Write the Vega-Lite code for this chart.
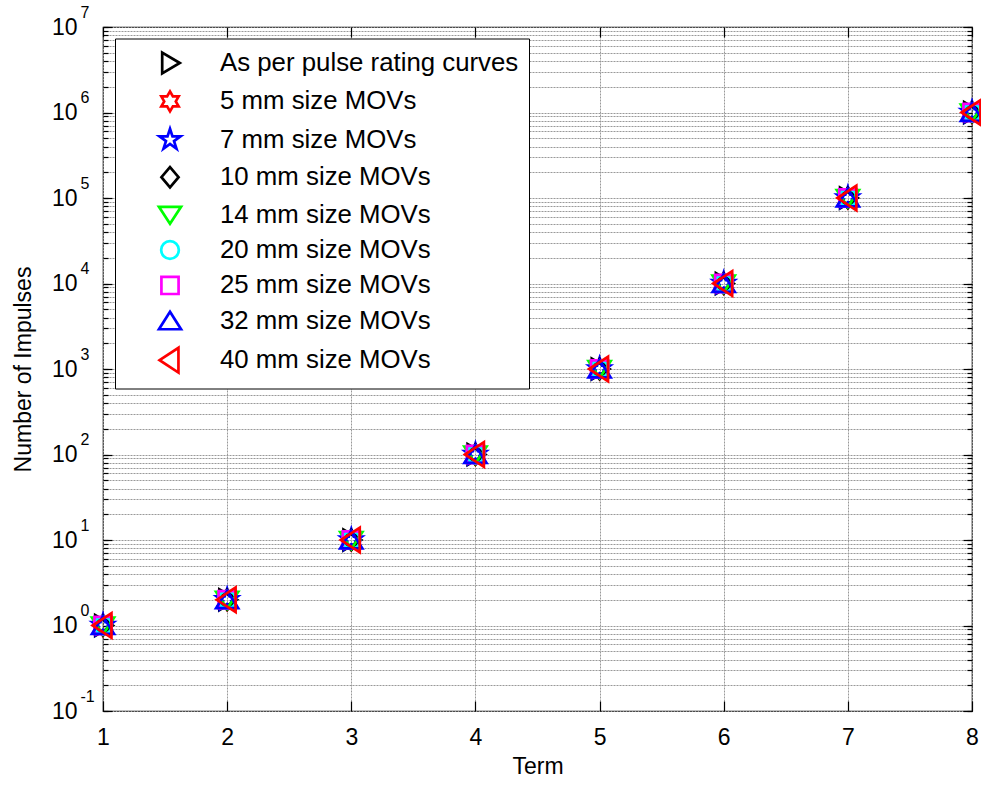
{
  "$schema": "https://vega.github.io/schema/vega-lite/v6.json",
  "width": 869,
  "height": 684,
  "autosize": {"type": "none"},
  "padding": {"left": 103, "top": 27, "right": 9, "bottom": 74},
  "background": "white",
  "data": {
    "values": [
      {"series": "As per pulse rating curves", "term": 1, "impulses": 1},
      {"series": "As per pulse rating curves", "term": 2, "impulses": 2},
      {"series": "As per pulse rating curves", "term": 3, "impulses": 10},
      {"series": "As per pulse rating curves", "term": 4, "impulses": 100},
      {"series": "As per pulse rating curves", "term": 5, "impulses": 1000},
      {"series": "As per pulse rating curves", "term": 6, "impulses": 10000},
      {"series": "As per pulse rating curves", "term": 7, "impulses": 100000},
      {"series": "As per pulse rating curves", "term": 8, "impulses": 1000000},
      {"series": "5 mm size MOVs", "term": 1, "impulses": 1},
      {"series": "5 mm size MOVs", "term": 2, "impulses": 2},
      {"series": "5 mm size MOVs", "term": 3, "impulses": 10},
      {"series": "5 mm size MOVs", "term": 4, "impulses": 100},
      {"series": "5 mm size MOVs", "term": 5, "impulses": 1000},
      {"series": "5 mm size MOVs", "term": 6, "impulses": 10000},
      {"series": "5 mm size MOVs", "term": 7, "impulses": 100000},
      {"series": "5 mm size MOVs", "term": 8, "impulses": 1000000},
      {"series": "7 mm size MOVs", "term": 1, "impulses": 1},
      {"series": "7 mm size MOVs", "term": 2, "impulses": 2},
      {"series": "7 mm size MOVs", "term": 3, "impulses": 10},
      {"series": "7 mm size MOVs", "term": 4, "impulses": 100},
      {"series": "7 mm size MOVs", "term": 5, "impulses": 1000},
      {"series": "7 mm size MOVs", "term": 6, "impulses": 10000},
      {"series": "7 mm size MOVs", "term": 7, "impulses": 100000},
      {"series": "7 mm size MOVs", "term": 8, "impulses": 1000000},
      {"series": "10 mm size MOVs", "term": 1, "impulses": 1},
      {"series": "10 mm size MOVs", "term": 2, "impulses": 2},
      {"series": "10 mm size MOVs", "term": 3, "impulses": 10},
      {"series": "10 mm size MOVs", "term": 4, "impulses": 100},
      {"series": "10 mm size MOVs", "term": 5, "impulses": 1000},
      {"series": "10 mm size MOVs", "term": 6, "impulses": 10000},
      {"series": "10 mm size MOVs", "term": 7, "impulses": 100000},
      {"series": "10 mm size MOVs", "term": 8, "impulses": 1000000},
      {"series": "14 mm size MOVs", "term": 1, "impulses": 1},
      {"series": "14 mm size MOVs", "term": 2, "impulses": 2},
      {"series": "14 mm size MOVs", "term": 3, "impulses": 10},
      {"series": "14 mm size MOVs", "term": 4, "impulses": 100},
      {"series": "14 mm size MOVs", "term": 5, "impulses": 1000},
      {"series": "14 mm size MOVs", "term": 6, "impulses": 10000},
      {"series": "14 mm size MOVs", "term": 7, "impulses": 100000},
      {"series": "14 mm size MOVs", "term": 8, "impulses": 1000000},
      {"series": "20 mm size MOVs", "term": 1, "impulses": 1},
      {"series": "20 mm size MOVs", "term": 2, "impulses": 2},
      {"series": "20 mm size MOVs", "term": 3, "impulses": 10},
      {"series": "20 mm size MOVs", "term": 4, "impulses": 100},
      {"series": "20 mm size MOVs", "term": 5, "impulses": 1000},
      {"series": "20 mm size MOVs", "term": 6, "impulses": 10000},
      {"series": "20 mm size MOVs", "term": 7, "impulses": 100000},
      {"series": "20 mm size MOVs", "term": 8, "impulses": 1000000},
      {"series": "25 mm size MOVs", "term": 1, "impulses": 1},
      {"series": "25 mm size MOVs", "term": 2, "impulses": 2},
      {"series": "25 mm size MOVs", "term": 3, "impulses": 10},
      {"series": "25 mm size MOVs", "term": 4, "impulses": 100},
      {"series": "25 mm size MOVs", "term": 5, "impulses": 1000},
      {"series": "25 mm size MOVs", "term": 6, "impulses": 10000},
      {"series": "25 mm size MOVs", "term": 7, "impulses": 100000},
      {"series": "25 mm size MOVs", "term": 8, "impulses": 1000000},
      {"series": "32 mm size MOVs", "term": 1, "impulses": 1},
      {"series": "32 mm size MOVs", "term": 2, "impulses": 2},
      {"series": "32 mm size MOVs", "term": 3, "impulses": 10},
      {"series": "32 mm size MOVs", "term": 4, "impulses": 100},
      {"series": "32 mm size MOVs", "term": 5, "impulses": 1000},
      {"series": "32 mm size MOVs", "term": 6, "impulses": 10000},
      {"series": "32 mm size MOVs", "term": 7, "impulses": 100000},
      {"series": "32 mm size MOVs", "term": 8, "impulses": 1000000},
      {"series": "40 mm size MOVs", "term": 1, "impulses": 1},
      {"series": "40 mm size MOVs", "term": 2, "impulses": 2},
      {"series": "40 mm size MOVs", "term": 3, "impulses": 10},
      {"series": "40 mm size MOVs", "term": 4, "impulses": 100},
      {"series": "40 mm size MOVs", "term": 5, "impulses": 1000},
      {"series": "40 mm size MOVs", "term": 6, "impulses": 10000},
      {"series": "40 mm size MOVs", "term": 7, "impulses": 100000},
      {"series": "40 mm size MOVs", "term": 8, "impulses": 1000000}
    ]
  },
  "layer": [
    {
      "mark": {"type": "point", "filled": false, "size": 676, "strokeWidth": 2.7, "opacity": 1},
      "encoding": {
        "x": {
          "field": "term", "type": "quantitative",
          "scale": {"domain": [1, 8], "nice": false, "zero": false},
          "axis": {"orient": "bottom", "values": [1, 2, 3, 4, 5, 6, 7, 8], "grid": true, "ticks": true, "tickSize": -10, "labels": false, "domain": false, "title": null}
        },
        "y": {
          "field": "impulses", "type": "quantitative",
          "scale": {"type": "log", "domain": [0.1, 10000000], "nice": false},
          "axis": {
            "orient": "left", "grid": true, "ticks": true, "tickSize": -5, "labels": false, "domain": false, "title": null,
            "values": [0.1, 0.2, 0.3, 0.4, 0.5, 0.6, 0.7, 0.8, 0.9, 1, 2, 3, 4, 5, 6, 7, 8, 9, 10, 20, 30, 40, 50, 60, 70, 80, 90, 100, 200, 300, 400, 500, 600, 700, 800, 900, 1000, 2000, 3000, 4000, 5000, 6000, 7000, 8000, 9000, 10000, 20000, 30000, 40000, 50000, 60000, 70000, 80000, 90000, 100000, 200000, 300000, 400000, 500000, 600000, 700000, 800000, 900000, 1000000, 2000000, 3000000, 4000000, 5000000, 6000000, 7000000, 8000000, 9000000, 10000000]
          }
        },
        "color": {
          "field": "series", "type": "nominal",
          "scale": {
            "domain": ["As per pulse rating curves", "5 mm size MOVs", "7 mm size MOVs", "10 mm size MOVs", "14 mm size MOVs", "20 mm size MOVs", "25 mm size MOVs", "32 mm size MOVs", "40 mm size MOVs"],
            "range": ["#000000", "#ff0000", "#0000ff", "#000000", "#00ff00", "#00ffff", "#ff00ff", "#0000ff", "#ff0000"]
          }
        },
        "shape": {
          "field": "series", "type": "nominal",
          "scale": {
            "domain": ["As per pulse rating curves", "5 mm size MOVs", "7 mm size MOVs", "10 mm size MOVs", "14 mm size MOVs", "20 mm size MOVs", "25 mm size MOVs", "32 mm size MOVs", "40 mm size MOVs"],
            "range": [
              "M0.75,0L-0.6,-0.8L-0.6,0.8Z",
              "M0,-0.77L0.222,-0.385L0.667,-0.385L0.445,0L0.667,0.385L0.222,0.385L0,0.77L-0.222,0.385L-0.667,0.385L-0.445,0L-0.667,-0.385L-0.222,-0.385Z",
              "M0,-0.85L0.191,-0.263L0.808,-0.263L0.309,0.1L0.5,0.688L0,0.325L-0.5,0.688L-0.309,0.1L-0.808,-0.263L-0.191,-0.263Z",
              "M0,-0.78L0.66,0L0,0.78L-0.66,0Z",
              "M0,0.7L0.85,-0.6L-0.85,-0.6Z",
              "M-0.68,0A0.68,0.68,0,1,0,0.68,0A0.68,0.68,0,1,0,-0.68,0Z",
              "M-0.66,-0.66L0.66,-0.66L0.66,0.66L-0.66,0.66Z",
              "M0,-0.7L0.85,0.65L-0.85,0.65Z",
              "M-0.8,0L0.65,-0.95L0.65,0.95Z"
            ]
          }
        }
      }
    },
    {
      "mark": {"type": "point", "opacity": 0},
      "encoding": {
        "x": {
          "field": "term", "type": "quantitative",
          "scale": {"domain": [1, 8], "nice": false, "zero": false},
          "axis": {"orient": "bottom", "values": [1, 2, 3, 4, 5, 6, 7, 8], "format": "d", "grid": false, "ticks": false, "domain": false, "labelPadding": 15, "labelBaseline": "top", "title": "Term", "titlePadding": 6}
        },
        "y": {
          "field": "impulses", "type": "quantitative",
          "scale": {"type": "log", "domain": [0.1, 10000000], "nice": false},
          "axis": {"orient": "left", "values": [0.1, 1, 10, 100, 1000, 10000, 100000, 1000000, 10000000], "grid": false, "ticks": true, "tickSize": -9, "labels": false, "domain": false, "title": null}
        }
      }
    },
    {
      "mark": {"type": "point", "opacity": 0},
      "encoding": {
        "x": {
          "field": "term", "type": "quantitative",
          "scale": {"domain": [1, 8], "nice": false, "zero": false},
          "axis": {"orient": "top", "values": [1, 2, 3, 4, 5, 6, 7, 8], "grid": false, "ticks": true, "tickSize": -10, "labels": false, "domain": false, "title": null}
        },
        "y": {
          "field": "impulses", "type": "quantitative",
          "scale": {"type": "log", "domain": [0.1, 10000000], "nice": false},
          "axis": {"orient": "left", "values": [0.1, 1, 10, 100, 1000, 10000, 100000, 1000000, 10000000], "grid": false, "ticks": false, "domain": false, "labelExpr": "'10'", "labelAlign": "right", "labelBaseline": "middle", "labelPadding": 26, "title": "Number of Impulses", "titlePadding": 16}
        }
      }
    },
    {
      "mark": {"type": "point", "opacity": 0},
      "encoding": {
        "y": {
          "field": "impulses", "type": "quantitative",
          "scale": {"type": "log", "domain": [0.1, 10000000], "nice": false},
          "axis": {"orient": "left", "values": [0.1, 1, 10, 100, 1000, 10000, 100000, 1000000, 10000000], "grid": false, "ticks": false, "domain": false, "labelExpr": "'' + round(log(datum.value) / LN10)", "labelAlign": "left", "labelBaseline": "middle", "labelPadding": 23, "labelOffset": -15, "labelFontSize": 16, "title": null}
        }
      }
    },
    {
      "mark": {"type": "point", "opacity": 0},
      "encoding": {
        "y": {
          "field": "impulses", "type": "quantitative",
          "scale": {"type": "log", "domain": [0.1, 10000000], "nice": false},
          "axis": {
            "orient": "right", "grid": false, "ticks": true, "tickSize": -5, "labels": false, "domain": false, "title": null,
            "values": [0.1, 0.2, 0.3, 0.4, 0.5, 0.6, 0.7, 0.8, 0.9, 1, 2, 3, 4, 5, 6, 7, 8, 9, 10, 20, 30, 40, 50, 60, 70, 80, 90, 100, 200, 300, 400, 500, 600, 700, 800, 900, 1000, 2000, 3000, 4000, 5000, 6000, 7000, 8000, 9000, 10000, 20000, 30000, 40000, 50000, 60000, 70000, 80000, 90000, 100000, 200000, 300000, 400000, 500000, 600000, 700000, 800000, 900000, 1000000, 2000000, 3000000, 4000000, 5000000, 6000000, 7000000, 8000000, 9000000, 10000000]
          }
        }
      }
    },
    {
      "mark": {"type": "point", "opacity": 0},
      "encoding": {
        "y": {
          "field": "impulses", "type": "quantitative",
          "scale": {"type": "log", "domain": [0.1, 10000000], "nice": false},
          "axis": {"orient": "right", "values": [0.1, 1, 10, 100, 1000, 10000, 100000, 1000000, 10000000], "grid": false, "ticks": true, "tickSize": -9, "labels": false, "domain": false, "title": null}
        }
      }
    }
  ],
  "resolve": {"axis": {"x": "independent", "y": "independent"}},
  "config": {
    "view": {"stroke": "#000000", "strokeWidth": 1.2},
    "font": "Liberation Sans",
    "axis": {
      "labelFont": "Liberation Sans",
      "labelFontSize": 23,
      "labelColor": "#000000",
      "labelFlush": false,
      "labelOverlap": false,
      "labelBound": false,
      "tickColor": "#000000",
      "tickWidth": 1.2,
      "domainColor": "#000000",
      "gridColor": "#999999",
      "gridDash": [2, 1],
      "gridWidth": 1,
      "titleFont": "Liberation Sans",
      "titleFontSize": 23,
      "titleFontWeight": "normal",
      "titleColor": "#000000"
    },
    "legend": {
      "orient": "none",
      "legendX": 12,
      "legendY": 11.5,
      "title": null,
      "fillColor": "#ffffff",
      "strokeColor": "#000000",
      "padding": 10,
      "labelFont": "Liberation Sans",
      "labelFontSize": 25.8,
      "labelColor": "#000000",
      "labelLimit": 0,
      "symbolSize": 676,
      "symbolStrokeWidth": 2.7,
      "symbolOffset": 30.5,
      "labelOffset": 35.5,
      "rowPadding": 6.4
    }
  }
}
